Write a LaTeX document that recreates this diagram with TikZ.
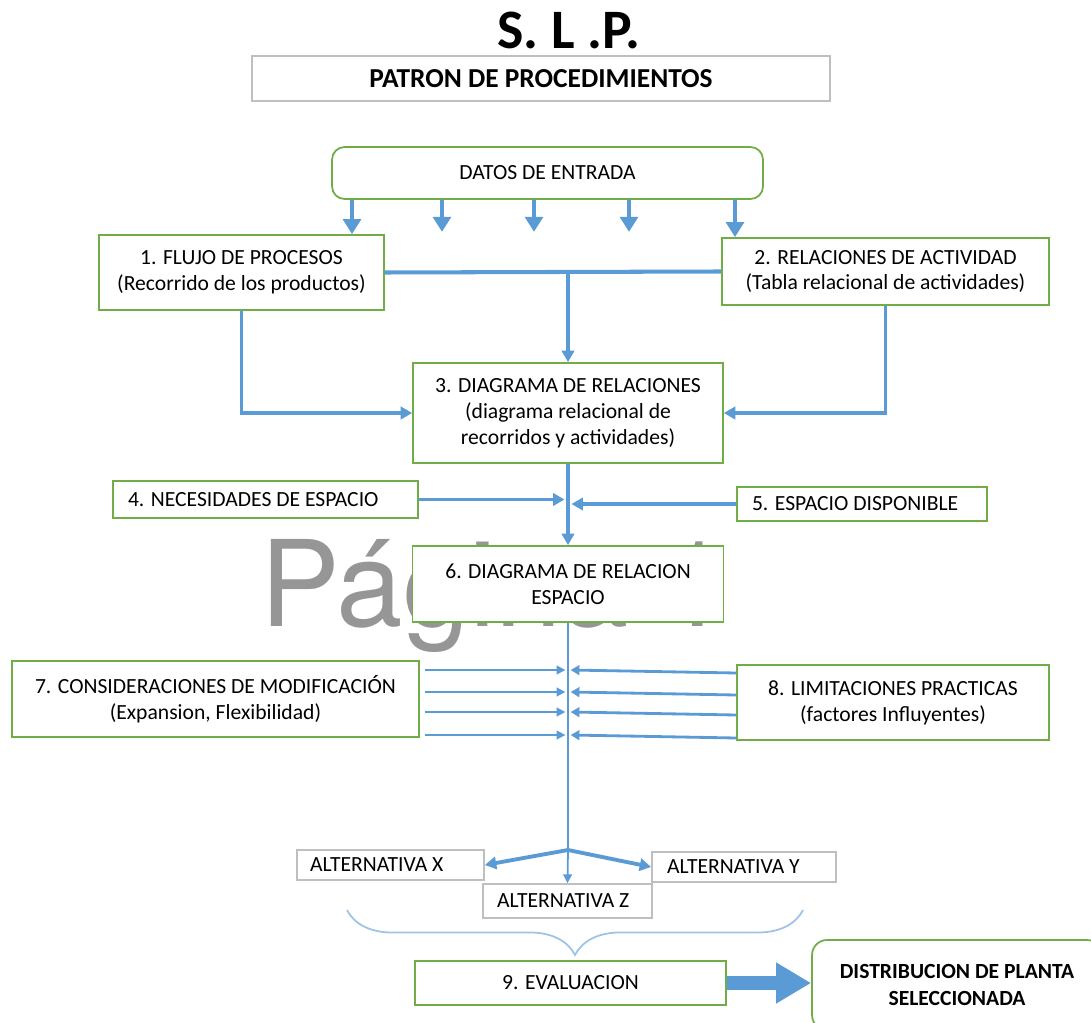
\documentclass[tikz,border=0pt]{standalone}
\usepackage{fontspec}
\setmainfont{Carlito}
\newfontfamily\markfont{TeX Gyre Heros}
\usetikzlibrary{arrows.meta, positioning, calc, decorations.pathreplacing}
\definecolor{boxgreen}{RGB}{112, 173, 71}
\definecolor{flowblue}{RGB}{91, 155, 213}
\definecolor{bracelight}{RGB}{157, 195, 230}
\definecolor{framegray}{RGB}{191, 191, 191}
\definecolor{markgray}{RGB}{150, 150, 150}

\tikzset{
  stepbox/.style={draw=boxgreen, line width=1pt, fill=white, align=center, inner sep=0pt,
    font=\fontsize{12.3}{14.7}\selectfont},
  leftbox/.style={stepbox, align=flush left, inner xsep=0.3cm, inner ysep=0pt},
  altbox/.style={draw=framegray, line width=1pt, fill=white, align=flush left, inner ysep=0pt,
    font=\fontsize{12.3}{14.7}\selectfont},
  feedarrow/.style={draw=flowblue, line width=2.8pt, -{Triangle[width=10pt,length=8.5pt]}},
  flowarrow/.style={draw=flowblue, line width=2.2pt, -{Triangle[width=7pt,length=6.5pt]}},
  medarrow/.style={draw=flowblue, line width=1.6pt, -{Triangle[width=5.5pt,length=5pt]}},
  thinarrow/.style={draw=flowblue, line width=1pt, -{Triangle[width=5pt,length=5pt]}},
  thinline/.style={draw=flowblue, line width=0.8pt},
}

\begin{document}
\begin{tikzpicture}[x=0.02cm, y=-0.02cm]
  \useasboundingbox (0,0) rectangle (1091,1023);

  % titulo
  \node[font=\bfseries\fontsize{31.7}{34}\selectfont, inner sep=0pt] (titulo) at (569,30) {S. L .P.};
  \node[draw=framegray, line width=1pt, minimum width=11.56cm, minimum height=0.9cm,
        font=\bfseries\fontsize{15.6}{17}\selectfont] (patron) at (541,78.5) {PATRON DE PROCEDIMIENTOS};

  % marca de agua
  \node[font=\markfont\fontsize{68}{68}\selectfont, text=markgray, anchor=base west, inner sep=0pt]
    (marca) at (260,626) {Página 1};

  % cajas
  \node[stepbox, rounded corners=0.25cm, minimum width=8.62cm, minimum height=1.04cm] (datos) at (547.5,173) {DATOS DE ENTRADA};
  \node[stepbox, minimum width=5.7cm, minimum height=1.5cm] (flujo) at (241.5,272.5)
    {1. FLUJO DE PROCESOS\\(Recorrido de los productos)};
  \node[stepbox, minimum width=6.54cm, minimum height=1.34cm] (relac) at (885.5,271.5)
    {2. RELACIONES DE ACTIVIDAD\\(Tabla relacional de actividades)};
  \node[stepbox, minimum width=6.2cm, minimum height=2cm] (diag) at (568,413)
    {3. DIAGRAMA DE RELACIONES\\(diagrama relacional de\\recorridos y actividades)};
  \node[leftbox, text width=5.5cm, minimum height=0.74cm] (neces) at (265.5,499.5) {4. NECESIDADES DE ESPACIO};
  \node[leftbox, text width=4.4cm, minimum height=0.68cm] (disp) at (862,504) {5. ESPACIO DISPONIBLE};
  \node[stepbox, minimum width=6.22cm, minimum height=1.52cm] (espacio) at (568,584)
    {6. DIAGRAMA DE RELACION\\ESPACIO};
  \node[stepbox, minimum width=8.14cm, minimum height=1.52cm] (consid) at (215.5,699)
    {7. CONSIDERACIONES DE MODIFICACIÓN\\(Expansion, Flexibilidad)};
  \node[stepbox, minimum width=6.24cm, minimum height=1.5cm] (limit) at (893,702.5)
    {8. LIMITACIONES PRACTICAS\\(factores Influyentes)};
  \node[altbox, inner xsep=0.26cm, text width=3.22cm, minimum height=0.6cm] (altX) at (390.5,865) {ALTERNATIVA X};
  \node[altbox, inner xsep=0.3cm, text width=3.08cm, minimum height=0.6cm] (altY) at (744,867) {ALTERNATIVA Y};
  \node[altbox, inner xsep=0.28cm, text width=2.82cm, minimum height=0.68cm] (altZ) at (567.5,901) {ALTERNATIVA Z};
  \node[stepbox, minimum width=6.22cm, minimum height=0.88cm] (evalua) at (570.5,983) {9. EVALUACION};
  \node[stepbox, rounded corners=0.3cm, minimum width=5.8cm, minimum height=1.8cm,
        font=\bfseries\fontsize{12.3}{15.3}\selectfont] (dist) at (957,985) {DISTRIBUCION DE PLANTA\\SELECCIONADA};

  % entradas
  \draw[feedarrow] (352,0 |- datos.south) -- (352,0 |- flujo.north);
  \foreach \x in {442,534,629}
    \draw[feedarrow] (\x,0 |- datos.south) -- ++(0,32);
  \draw[feedarrow] (735,0 |- datos.south) -- (735,0 |- relac.north);

  % flujo y relaciones
  \draw[draw=flowblue, line width=2.3pt] (flujo.east) -- (relac.west);
  \draw[flowarrow] (diag.north |- flujo.east) -- (diag.north);
  \draw[flowarrow] (flujo.south) |- (diag.west);
  \draw[flowarrow] (relac.south) |- (diag.east);
  \draw[flowarrow] (diag.south) -- (espacio.north);
  \draw[flowarrow] (neces.east) -- ([xshift=-2pt]neces.east -| diag.south);
  \draw[flowarrow] (disp.west) -- ([xshift=2pt]disp.west -| diag.south);

  % consideraciones y limitaciones
  \coordinate (split) at (espacio.south |- 0,850);
  \draw[thinline] (espacio.south) -- (split);
  \foreach \y in {670,692,712,735}
    \draw[thinarrow] ([xshift=0.1cm]consid.east |- 0,\y) -- ([xshift=-1.5pt]espacio.south |- 0,\y);
  \foreach \y in {670,692,712,735}
    \draw[medarrow] (limit.west |- 0,\y+3) -- ([xshift=1.5pt]espacio.south |- 0,\y);

  % alternativas
  \draw[flowarrow] (split) -- (altX.east);
  \draw[flowarrow] (split) -- (altY.west);
  \draw[thinarrow] (split) -- (altZ.north);
  \coordinate (braceL) at (347,910);
  \coordinate (braceR) at (803,910);
  \draw[draw=bracelight, line width=1pt, decorate, decoration={brace, mirror, amplitude=0.9cm}] (braceL) -- (braceR);
  \draw[draw=flowblue, line width=8pt, -{Triangle[width=22pt,length=20pt]}] (evalua.east) -- (evalua.east -| dist.west);
\end{tikzpicture}
\end{document}
